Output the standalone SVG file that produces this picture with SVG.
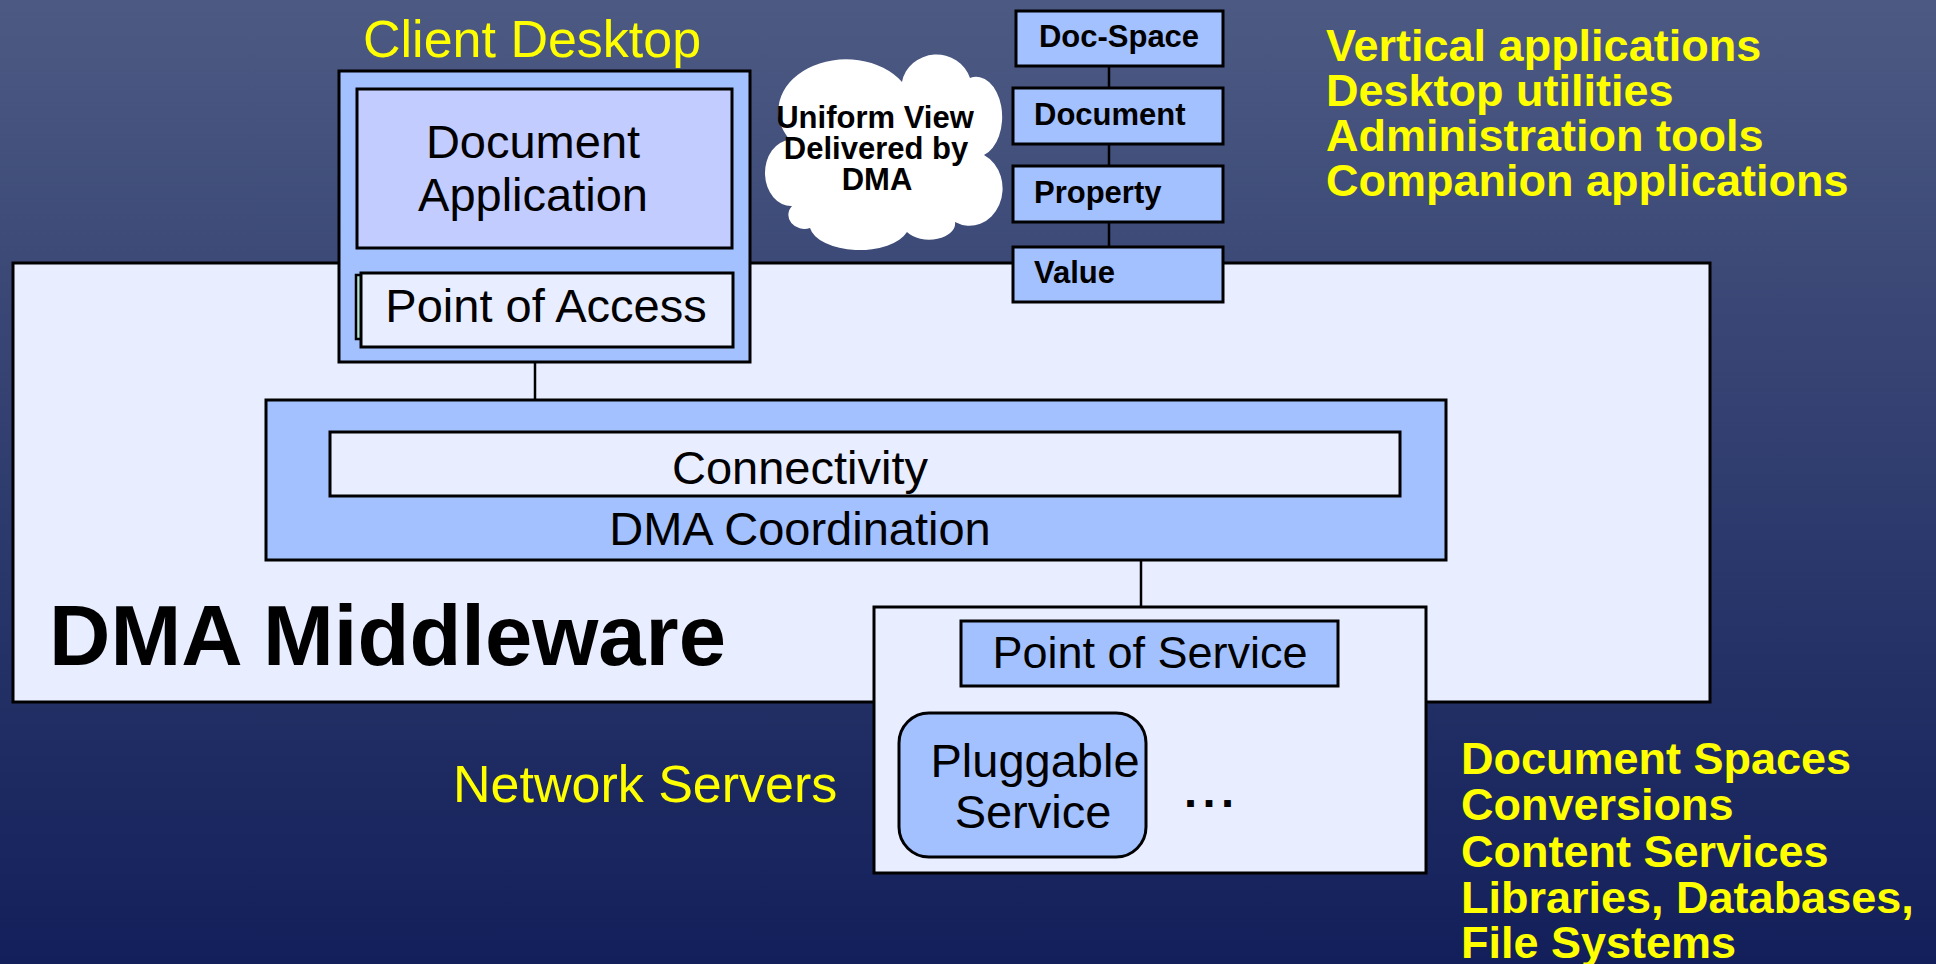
<svg xmlns="http://www.w3.org/2000/svg" width="1936" height="964" viewBox="0 0 1936 964">
<defs>
<linearGradient id="bg" x1="0" y1="0" x2="0" y2="1">
<stop offset="0" stop-color="#4c5a83"/>
<stop offset="0.5" stop-color="#2f3c6e"/>
<stop offset="1" stop-color="#121f5a"/>
</linearGradient>
</defs>
<style>
.box{stroke:#000;stroke-width:3}
.blue{fill:#a3c0ff}
.pale{fill:#e8eeff}
.lav{fill:#c2ccff}
.t{font-family:"Liberation Sans",Arial,sans-serif;fill:#000}
.y{font-family:"Liberation Sans",Arial,sans-serif;fill:#ffff00}
.b{font-weight:bold}
.conn{stroke:#000;stroke-width:2.5;fill:none}
</style>
<rect x="0" y="0" width="1936" height="964" fill="url(#bg)"/>

<g id="middleware">
<rect class="box pale" x="13" y="263" width="1697" height="439"/>
<text class="t b" x="49" y="665" font-size="85">DMA Middleware</text>
</g>

<g id="connectors">
<line class="conn" x1="535" y1="362" x2="535" y2="400"/>
<line class="conn" x1="1141" y1="560" x2="1141" y2="607"/>
<line class="conn" x1="1109" y1="66" x2="1109" y2="247"/>
</g>

<g id="client-desktop">
<text class="y" x="363" y="57" font-size="52">Client Desktop</text>
<rect class="box blue" x="339" y="71" width="411" height="291"/>
</g>

<g id="document-application">
<rect class="box lav" x="357" y="89" width="375" height="159"/>
<text class="t" x="533" y="158" font-size="47" text-anchor="middle">Document</text>
<text class="t" x="533" y="211" font-size="47" text-anchor="middle">Application</text>
</g>

<g id="point-of-access">
<rect x="356" y="275" width="10" height="64" fill="#b0e8d8" stroke="#000" stroke-width="2.5"/>
<rect class="box pale" x="361" y="273" width="372" height="74"/>
<text class="t" x="546" y="322" font-size="47" text-anchor="middle">Point of Access</text>
</g>

<g id="dma-coordination">
<rect class="box blue" x="266" y="400" width="1180" height="160"/>
<text class="t" x="800" y="545" font-size="47" text-anchor="middle">DMA Coordination</text>
</g>

<g id="connectivity">
<rect class="box pale" x="330" y="432" width="1070" height="64"/>
<text class="t" x="800" y="484" font-size="47" text-anchor="middle">Connectivity</text>
</g>

<g id="network-servers">
<text class="y" x="453" y="802" font-size="52">Network Servers</text>
<rect class="box pale" x="874" y="607" width="552" height="266"/>
<text class="t b" x="1184" y="807" font-size="47" letter-spacing="5.5">...</text>
</g>

<g id="point-of-service">
<rect class="box blue" x="961" y="621" width="377" height="65"/>
<text class="t" x="1150" y="668" font-size="45" text-anchor="middle">Point of Service</text>
</g>

<g id="pluggable-service">
<rect class="box blue" x="899" y="713" width="247" height="144" rx="30" ry="30"/>
<text class="t" x="1035" y="777" font-size="47" text-anchor="middle">Pluggable</text>
<text class="t" x="1033" y="828" font-size="47" text-anchor="middle">Service</text>
</g>

<g id="cloud">
<path fill="#ffffff" d="M 902 82 A 35 33 0 0 1 970 78 A 26 40 0 0 1 984 155 A 32 36 0 0 1 955 222 A 26 16 0 0 1 907 232 A 50 26 0 0 1 810 228 A 16 14 0 0 1 792 206 A 26 33 0 0 1 790 140 A 55 42 0 0 1 902 82 Z"/>
<text class="t b" x="875" y="128" font-size="31" text-anchor="middle">Uniform View</text>
<text class="t b" x="876" y="159" font-size="31" text-anchor="middle">Delivered by</text>
<text class="t b" x="877" y="190" font-size="31" text-anchor="middle">DMA</text>
</g>

<g id="doc-space">
<rect class="box blue" x="1016" y="11" width="207" height="55"/>
<text class="t b" x="1119" y="47" font-size="31" text-anchor="middle">Doc-Space</text>
</g>
<g id="document">
<rect class="box blue" x="1013" y="88" width="210" height="56"/>
<text class="t b" x="1034" y="125" font-size="31">Document</text>
</g>
<g id="property">
<rect class="box blue" x="1013" y="166" width="210" height="56"/>
<text class="t b" x="1034" y="203" font-size="31">Property</text>
</g>
<g id="value">
<rect class="box blue" x="1013" y="247" width="210" height="55"/>
<text class="t b" x="1034" y="283" font-size="31">Value</text>
</g>

<g id="client-apps-list">
<text class="y b" x="1326" y="61" font-size="45">Vertical applications</text>
<text class="y b" x="1326" y="106" font-size="45">Desktop utilities</text>
<text class="y b" x="1326" y="151" font-size="45">Administration tools</text>
<text class="y b" x="1326" y="196" font-size="45">Companion applications</text>
</g>

<g id="services-list">
<text class="y b" x="1461" y="774" font-size="45">Document Spaces</text>
<text class="y b" x="1461" y="820" font-size="45">Conversions</text>
<text class="y b" x="1461" y="867" font-size="45">Content Services</text>
<text class="y b" x="1461" y="913" font-size="45">Libraries, Databases,</text>
<text class="y b" x="1461" y="958" font-size="45">File Systems</text>
</g>
</svg>
